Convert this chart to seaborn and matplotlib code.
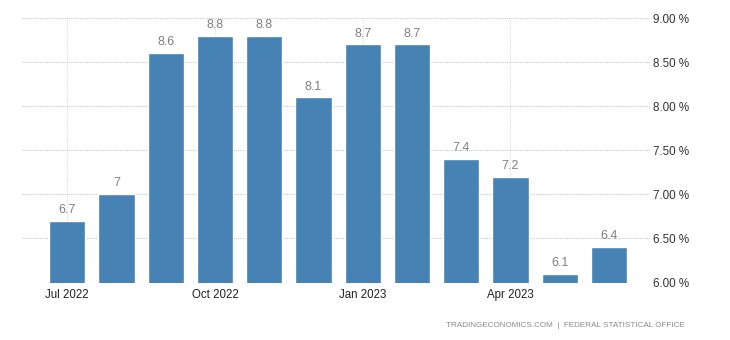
import matplotlib
matplotlib.use("Agg")
import matplotlib.pyplot as plt
import seaborn as sns
import pandas as pd

months = ["Jul 2022", "Aug 2022", "Sep 2022", "Oct 2022", "Nov 2022", "Dec 2022",
          "Jan 2023", "Feb 2023", "Mar 2023", "Apr 2023", "May 2023", "Jun 2023"]
values = [6.7, 7.0, 8.6, 8.8, 8.8, 8.1, 8.7, 8.7, 7.4, 7.2, 6.1, 6.4]
value_labels = ["6.7", "7", "8.6", "8.8", "8.8", "8.1", "8.7", "8.7", "7.4", "7.2", "6.1", "6.4"]
yticks = [6.0, 6.5, 7.0, 7.5, 8.0, 8.5, 9.0]
ytick_labels = ["6.00 %", "6.50 %", "7.00 %", "7.50 %", "8.00 %", "8.50 %", "9.00 %"]
xtick_labels = ["Jul 2022", "Oct 2022", "Jan 2023", "Apr 2023"]

sns.set_style("white")
plt.rcParams["font.family"] = ["Liberation Sans", "DejaVu Sans"]

df = pd.DataFrame({"month": months, "value": values})

fig = plt.figure(figsize=(7.3, 3.4), dpi=100)
ax = fig.add_axes([22 / 730, 57.5 / 340, 628 / 730, 264.5 / 340])

sns.barplot(data=df, x="month", y="value", color="#4682B4", saturation=1,
            width=0.737, ax=ax, zorder=3)

ax.set_ylim(6.0, 9.0)
ax.set_xlim(-0.918, 11.834)

for i, (v, lab) in enumerate(zip(values, value_labels)):
    ax.text(i, v + 0.055, lab, ha="center", va="bottom", fontsize=9,
            color="#808080", zorder=4)

ax.set_yticks(yticks)
ax.set_yticklabels(ytick_labels)
ax.yaxis.tick_right()
ax.tick_params(axis="y", length=0, pad=2, labelsize=8.4, colors="#333333")

tick_pos = [months.index(m) for m in xtick_labels]
ax.set_xticks(tick_pos)
ax.set_xticklabels(xtick_labels)
ax.tick_params(axis="x", length=0, pad=5, labelsize=8.3, colors="#222222")

ax.grid(axis="y", color="#c8c8c8", linestyle=(0, (1, 1)), linewidth=0.8, zorder=0)
ax.grid(axis="x", color="#dddddd", linestyle=(0, (1, 1)), linewidth=0.8, zorder=0)
for s in ax.spines.values():
    s.set_visible(False)
ax.set_xlabel("")
ax.set_ylabel("")

fig.text(685 / 730, 14.5 / 340, "TRADINGECONOMICS.COM  |  FEDERAL STATISTICAL OFFICE",
         ha="right", va="center", fontsize=5.9, color="#8a8a8a")

fig.savefig("out.png", dpi=100)
